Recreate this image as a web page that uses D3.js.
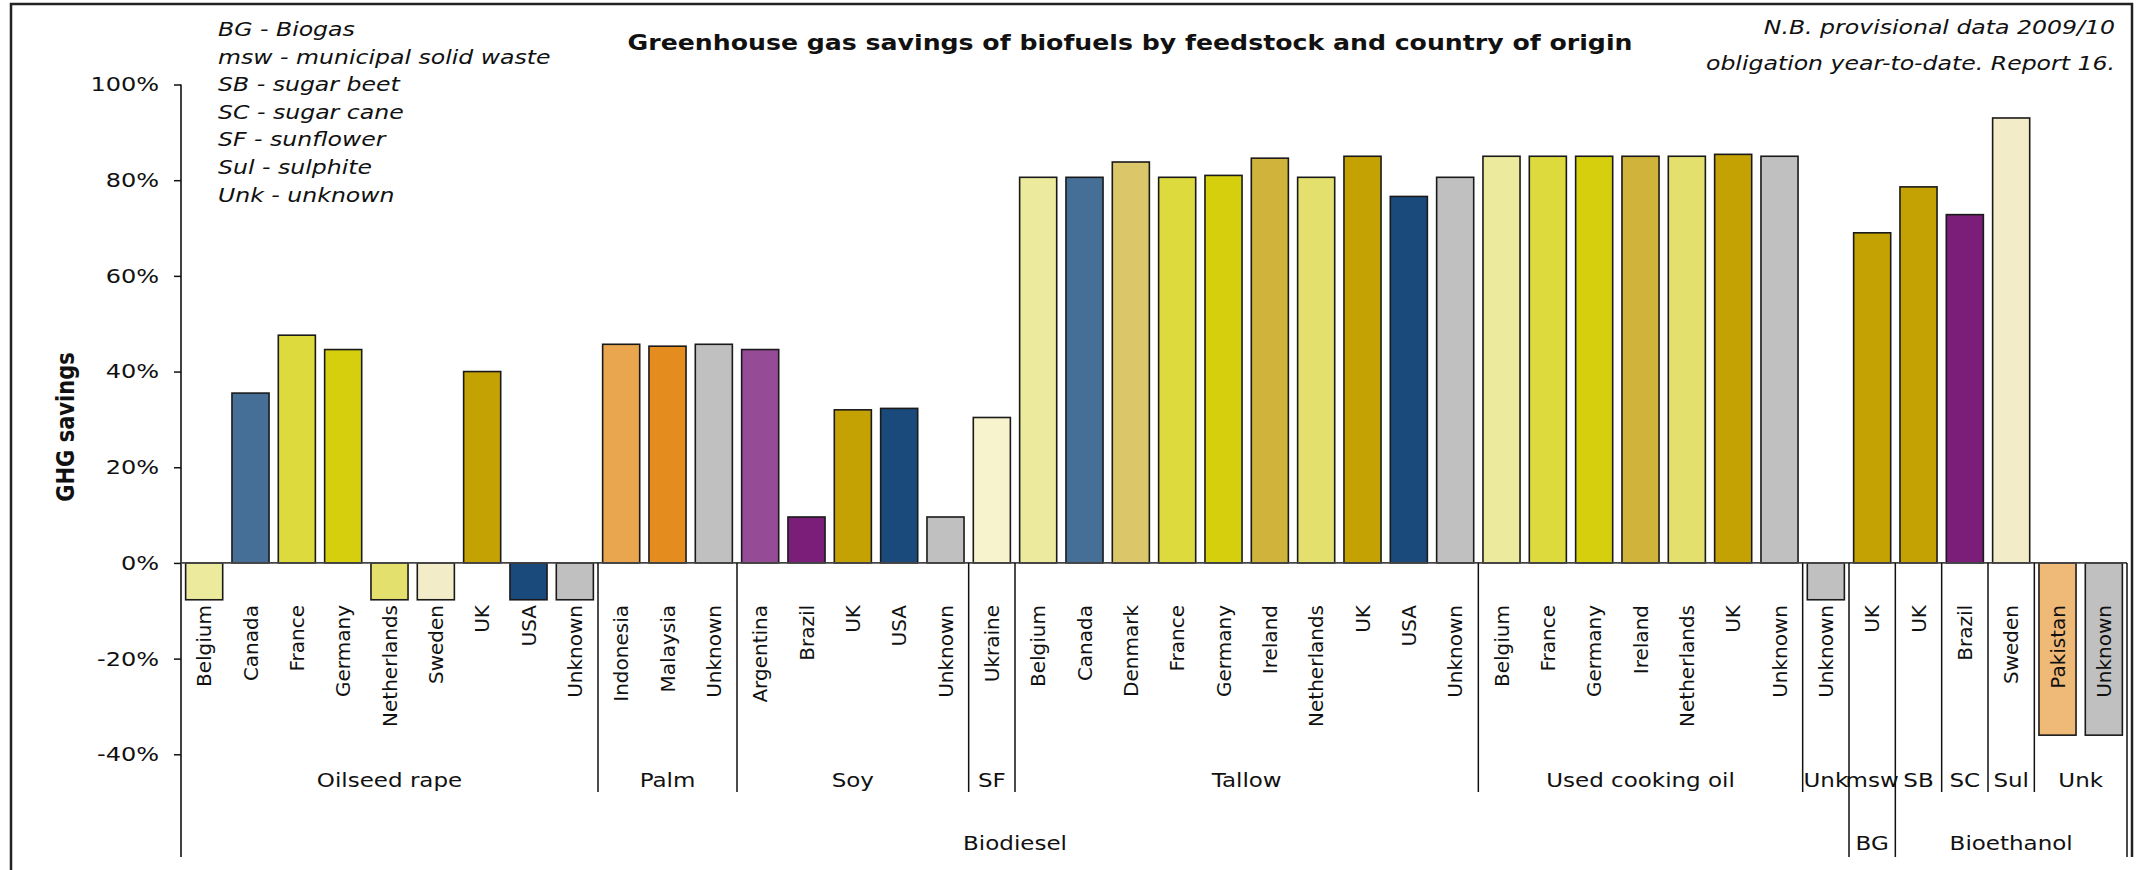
<!DOCTYPE html>
<html>
<head>
<meta charset="utf-8">
<script src="https://cdn.jsdelivr.net/npm/d3@7"></script>
<style>
  body { margin: 0; background: #fff; }
  svg { display: block; }
  text { font-family: "DejaVu Sans", sans-serif; fill: #111; }
</style>
</head>
<body>
<div id="chart"></div>
<script>
(function () {
  'use strict';

  // one entry per bar, left to right
  var countries = ["Belgium", "Canada", "France", "Germany", "Netherlands", "Sweden", "UK", "USA", "Unknown",
    "Indonesia", "Malaysia", "Unknown",
    "Argentina", "Brazil", "UK", "USA", "Unknown",
    "Ukraine",
    "Belgium", "Canada", "Denmark", "France", "Germany", "Ireland", "Netherlands", "UK", "USA", "Unknown",
    "Belgium", "France", "Germany", "Ireland", "Netherlands", "UK", "Unknown",
    "Unknown",
    "UK",
    "UK", "Brazil", "Sweden", "Pakistan", "Unknown"];

  // GHG savings in %
  var savings = [-7.7, 35.5, 47.6, 44.6, -7.7, -7.7, 40.0, -7.7, -7.7,
    45.7, 45.3, 45.7,
    44.6, 9.6, 32.0, 32.3, 9.6,
    30.4,
    80.6, 80.6, 83.8, 80.6, 81.0, 84.6, 80.6, 85.0, 76.6, 80.6,
    85.0, 85.0, 85.0, 85.0, 85.0, 85.4, 85.0,
    -7.7,
    69.0,
    78.6, 72.8, 93.0, -36.0, -36.0];

  var feedstockNames = ["Oilseed rape", "Palm", "Soy", "SF", "Tallow", "Used cooking oil", "Unk",
    "msw", "SB", "SC", "Sul", "Unk"];
  var feedstockSizes = [9, 3, 5, 1, 10, 7, 1, 1, 1, 1, 1, 2];

  var fuelNames = ["Biodiesel", "BG", "Bioethanol"];
  var fuelSizes = [36, 1, 5];

  var yTicks = [-40, -20, 0, 20, 40, 60, 80, 100];

  var legendLines = ["BG - Biogas", "msw - municipal solid waste", "SB - sugar beet", "SC - sugar cane",
    "SF - sunflower", "Sul - sulphite", "Unk - unknown"];
  var noteLines = ["N.B. provisional data 2009/10", "obligation year-to-date. Report 16."];

  var countryColor = {
    "Belgium": "#ecea9d", "Canada": "#466f97", "France": "#dcda3c", "Germany": "#d5cf0d",
    "Netherlands": "#e4e06e", "Sweden": "#f3ecc9", "UK": "#c4a204", "USA": "#194a7b",
    "Unknown": "#c0c0c0", "Indonesia": "#e9a64e", "Malaysia": "#e48c1e", "Argentina": "#964b96",
    "Brazil": "#7a1e7a", "Ukraine": "#f7f3cd", "Denmark": "#dcc66a", "Ireland": "#cfb33a",
    "Pakistan": "#efb978"
  };

  var width = 2139, height = 870,
      plotLeft = 181, plotRight = 2127,
      labelTop = 605, level1Bottom = 792, level2Bottom = 857,
      sx = 1.18; // source text is drawn a little wide

  var svg = d3.select("#chart").append("svg")
    .attr("width", width)
    .attr("height", height);

  svg.append("rect").attr("width", width).attr("height", height).attr("fill", "#fff");

  // outer frame
  svg.append("path")
    .attr("d", "M11," + height + "V4H2132V" + level2Bottom)
    .attr("fill", "none")
    .attr("stroke", "#222")
    .attr("stroke-width", 2.5);

  function wideText(g, x, y, str, size, opts) {
    opts = opts || {};
    return g.append("text")
      .attr("transform", "translate(" + x + "," + y + ") scale(" + (opts.sx || sx) + ",1)")
      .attr("text-anchor", opts.anchor || "start")
      .style("font-size", size + "px")
      .style("font-weight", opts.bold ? "bold" : null)
      .style("font-style", opts.italic ? "italic" : null)
      .text(str);
  }

  var x = d3.scaleBand()
    .domain(d3.range(countries.length))
    .range([plotLeft, plotRight])
    .paddingInner(0.2)
    .paddingOuter(0.1);
  var step = x.step();

  var y = d3.scaleLinear().domain([-40, 100]).range([754.3, 84.5]);

  // y axis
  var yAxis = d3.axisLeft(y)
    .tickValues(yTicks)
    .tickFormat(function (d) { return d + "%"; })
    .tickSize(7)
    .tickSizeOuter(0);

  var yg = svg.append("g")
    .attr("transform", "translate(" + plotLeft + ",0)")
    .call(yAxis);
  yg.select(".domain").remove();
  yg.selectAll(".tick line").attr("stroke", "#111").attr("stroke-width", 1.5);
  yg.selectAll(".tick text")
    .attr("x", -22 / 1.2)
    .attr("transform", "scale(1.2,1)")
    .style("font-size", "20px")
    .style("font-family", "DejaVu Sans")
    .attr("fill", "#111");

  svg.append("line")
    .attr("x1", plotLeft).attr("x2", plotLeft)
    .attr("y1", y(100)).attr("y2", level2Bottom)
    .attr("stroke", "#111").attr("stroke-width", 1.6);

  // bars
  svg.append("g").selectAll("rect")
    .data(savings)
    .enter().append("rect")
    .attr("x", function (d, i) { return x(i); })
    .attr("width", x.bandwidth())
    .attr("y", function (d) { return y(Math.max(0, d)); })
    .attr("height", function (d) { return Math.abs(y(d) - y(0)); })
    .attr("fill", function (d, i) { return countryColor[countries[i]]; })
    .attr("stroke", "#1a1a1a")
    .attr("stroke-width", 1.6);

  // category axis line
  svg.append("line")
    .attr("x1", plotLeft).attr("x2", plotRight)
    .attr("y1", y(0)).attr("y2", y(0))
    .attr("stroke", "#444").attr("stroke-width", 1.8);

  // country labels
  svg.append("g").selectAll("text")
    .data(countries)
    .enter().append("text")
    .attr("transform", function (d, i) {
      return "translate(" + (x(i) + x.bandwidth() / 2) + "," + labelTop + ") rotate(-90)";
    })
    .attr("dy", "0.36em")
    .attr("text-anchor", "end")
    .style("font-size", "20px")
    .text(function (d) { return d; });

  // group separators and labels
  var fuelEdges = [];
  var acc = 0;
  fuelSizes.forEach(function (n) { acc += n; fuelEdges.push(acc); });

  var sepG = svg.append("g").attr("stroke", "#111").attr("stroke-width", 1.5);
  var labG = svg.append("g");

  acc = 0;
  feedstockSizes.forEach(function (n, k) {
    var start = acc;
    acc += n;
    var bx = plotLeft + acc * step;
    var isFuelEdge = fuelEdges.indexOf(acc) >= 0;
    sepG.append("line")
      .attr("x1", bx).attr("x2", bx)
      .attr("y1", y(0)).attr("y2", isFuelEdge ? level2Bottom : level1Bottom);
    wideText(labG, plotLeft + (start + n / 2) * step, 787, feedstockNames[k], 20,
      { anchor: "middle", sx: 1.15 });
  });

  acc = 0;
  fuelSizes.forEach(function (n, k) {
    var start = acc;
    acc += n;
    wideText(labG, plotLeft + (start + n / 2) * step, 850, fuelNames[k], 20,
      { anchor: "middle", sx: 1.15 });
  });

  // titles
  wideText(svg, 1130, 50, "Greenhouse gas savings of biofuels by feedstock and country of origin", 21,
    { anchor: "middle", bold: true, sx: 1.2 });

  svg.append("text")
    .attr("transform", "translate(65,427) scale(1.2,1) rotate(-90)")
    .attr("dy", "0.36em")
    .attr("text-anchor", "middle")
    .style("font-size", "21px")
    .style("font-weight", "bold")
    .text("GHG savings");

  legendLines.forEach(function (s, i) {
    wideText(svg, 218, 36 + i * 27.6, s, 20, { italic: true });
  });

  noteLines.forEach(function (s, i) {
    wideText(svg, 2115, 34 + i * 36, s, 20, { italic: true, anchor: "end" });
  });
})();
</script>
</body>
</html>
